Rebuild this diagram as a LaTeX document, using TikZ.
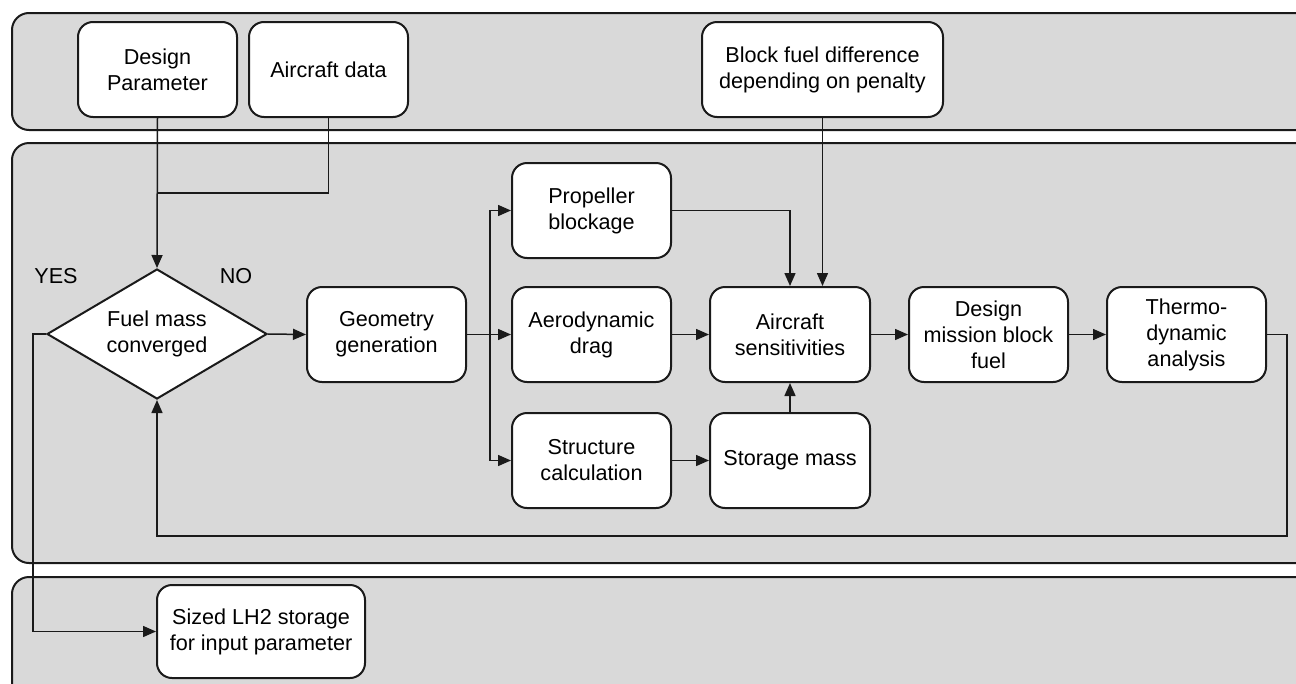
\documentclass[tikz,border=0pt]{standalone}
\usepackage{fontspec}
\setmainfont{Liberation Sans}
\usetikzlibrary{shapes.geometric,arrows.meta}
\definecolor{panelgray}{HTML}{D9D9D9}
\definecolor{ink}{HTML}{1A1A1A}
\begin{document}
\begin{tikzpicture}[x=1pt,y=-1pt,
  panel/.style={draw=ink,line width=2pt,fill=panelgray,rounded corners=17pt},
  box/.style={draw=ink,line width=2pt,fill=white,rounded corners=15pt,
    minimum width=159pt,minimum height=95pt,align=center,inner sep=2pt,
    font=\fontsize{21.6}{26}\selectfont},
  dec/.style={draw=ink,line width=2pt,fill=white,diamond,aspect=1.69,
    minimum width=220pt,minimum height=130pt,inner sep=0pt,align=center,
    font=\fontsize{21.6}{26}\selectfont},
  lbl/.style={font=\fontsize{21.6}{26}\selectfont,inner sep=0pt},
  conn/.style={draw=ink,line width=1.5pt},
  arr/.style={conn,-{Triangle[length=13pt,width=11pt]}}
]
\useasboundingbox (0,0) rectangle (1296,683);
\begin{scope}
\clip (0,0) rectangle (1296,683);
\draw[panel] (12,13) rectangle (1330,130);
\draw[panel] (12,143) rectangle (1330,563);
\draw[panel] (12,577) rectangle (1330,720);
\end{scope}

\node[box] (dp) at (157.5,69.5) {Design\\Parameter};
\node[box] (ad) at (328.5,69.5) {Aircraft data};
\node[box,minimum width=241pt] (bf) at (822.5,69.5) {Block fuel difference\\depending on penalty};

\node[dec] (fm) at (157,334) {Fuel mass\\converged};
\node[lbl] (yes) at (56,276) {YES};
\node[lbl] (no) at (236,276) {NO};

\node[box] (geo) at (386.5,334.5) {Geometry\\generation};
\node[box] (prop) at (591.5,210.5) {Propeller\\blockage};
\node[box] (aero) at (591.5,334.5) {Aerodynamic\\drag};
\node[box] (struc) at (591.5,460.5) {Structure\\calculation};
\node[box,minimum width=160pt] (sens) at (790,334.5) {Aircraft\\sensitivities};
\node[box,minimum width=160pt] (stor) at (790,460.5) {Storage mass};
\node[box] (dmb) at (988.5,334.5) {Design\\mission block\\fuel};
\node[box] (thermo) at (1186.5,334.5) {Thermo-\\dynamic\\analysis};
\node[box,minimum width=208pt,minimum height=93pt] (lh2) at (261,631.5) {Sized LH2 storage\\for input parameter};

% inputs
\coordinate (j1) at (157,193);
\draw[arr] (dp.south) -- (fm.north);
\draw[conn] (ad.south) |- (j1);
\draw[arr] (bf.south) -- (bf.south |- sens.north);

% main flow
\draw[arr] (fm.east) -- (geo.west);
\coordinate (br) at (490,334.5);
\draw[arr] (geo.east) -- (aero.west);
\draw[arr] (br) |- (prop.west);
\draw[arr] (br) |- (struc.west);
\draw[arr] (prop.east) -| (sens.north);
\draw[arr] (aero.east) -- (sens.west);
\draw[arr] (struc.east) -- (stor.west);
\draw[arr] (stor.north) -- (sens.south);
\draw[arr] (sens.east) -- (dmb.west);
\draw[arr] (dmb.east) -- (thermo.west);

% loop back
\coordinate (r1) at (1287,334.5);
\coordinate (r2) at (1287,536);
\coordinate (r3) at (157,536);
\draw[arr] (thermo.east) -- (r1) -- (r2) -- (r3) -- (fm.south);

% exit
\coordinate (e1) at (33,334);
\draw[arr] (fm.west) -- (e1) |- (lh2.west);
\end{tikzpicture}
\end{document}
